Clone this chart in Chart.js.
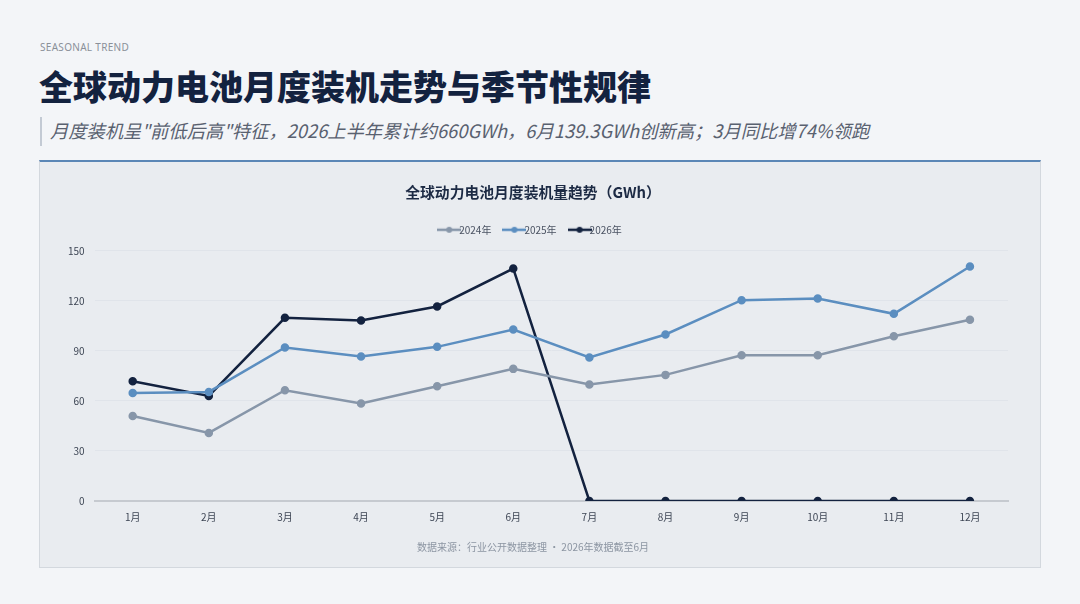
<!DOCTYPE html>
<html>
<head>
<meta charset="utf-8">
<script src="https://cdn.jsdelivr.net/npm/chart.js@4.4.1/dist/chart.umd.min.js"></script>
<style>
  body { margin:0; width:1080px; height:604px; background:#f3f5f8; font-family:"Noto Sans CJK SC","Noto Sans",sans-serif; position:relative; overflow:hidden; }
  .kicker { position:absolute; left:40px; top:40px; font-size:10px; color:#8a9099; letter-spacing:0.3px; font-family:"Noto Sans","Noto Sans CJK SC",sans-serif; }
  .title { position:absolute; left:39px; top:62px; font-size:34px; font-weight:900; color:#13223f; letter-spacing:0px; line-height:48px; }
  .sub { position:absolute; left:40px; top:117px; height:29px; border-left:2px solid #c3cad4; padding-left:8px; font-size:18.3px; font-style:italic; color:#596170; line-height:27px; }
  .card { position:absolute; left:39px; top:160px; width:1000px; height:405px; background:#e9ecf0; border:1px solid #d3d8de; border-top:2px solid #5b87b6; }
  .card canvas { position:absolute; left:0; top:0; }
</style>
</head>
<body>
<div class="kicker">SEASONAL TREND</div>
<div class="title">全球动力电池月度装机走势与季节性规律</div>
<div class="sub">月度装机呈"前低后高"特征，2026上半年累计约660GWh，6月139.3GWh创新高；3月同比增74%领跑</div>
<div class="card"><div style="position:absolute;left:0;top:0;width:1000px;height:405px"><canvas id="myChart"></canvas></div></div>
<script>
const months = ['1月','2月','3月','4月','5月','6月','7月','8月','9月','10月','11月','12月']
const data2024 = [51.0, 40.8, 66.4, 58.4, 68.8, 79.2, 69.8, 75.6, 87.4, 87.4, 98.8, 108.6]
const data2025 = [64.8, 65.4, 92.0, 86.6, 92.4, 102.8, 86.0, 99.8, 120.4, 121.4, 112.2, 140.6]
const data2026 = [71.8, 63.0, 109.8, 108.2, 116.6, 139.3, 0, 0, 0, 0, 0, 0]
const yTicks = [0, 30, 60, 90, 120, 150]

const colors = ['#8796a9', '#5b8ec0', '#13223f']
const font = '"Noto Sans CJK SC","Noto Sans",sans-serif'

function legendMark(color){
    const c = document.createElement('canvas')
    c.width = 24; c.height = 8
    const g = c.getContext('2d')
    g.strokeStyle = color; g.lineWidth = 2.5
    g.beginPath(); g.moveTo(0,4); g.lineTo(24,4); g.stroke()
    g.fillStyle = color
    g.beginPath(); g.arc(12,4,3,0,Math.PI*2); g.fill()
    return c
}

function makeSet(label, values, color){
    return {
        label: label,
        data: values,
        borderColor: color,
        backgroundColor: color,
        borderWidth: 2.5,
        pointRadius: 3,
        pointHoverRadius: 4,
        tension: 0,
        pointStyle: 'circle'
    }
}

// legend needs some extra room below it
const legendGap = {
    id: 'legendGap',
    beforeInit(chart){
        const fit = chart.legend.fit
        chart.legend.fit = function(){
            fit.bind(chart.legend)()
            this.height += 6
        }
    }
}

var ctx = document.getElementById('myChart').getContext('2d');
const marks = colors.map(legendMark)
new Chart(ctx, {
    type: 'line',
    data: {
        labels: months,
        datasets: [
            makeSet('2024年', data2024, colors[0]),
            makeSet('2025年', data2025, colors[1]),
            makeSet('2026年', data2026, colors[2])
        ]
    },
    plugins: [legendGap],
    options: {
        responsive: true,
        maintainAspectRatio: false,
        animation: false,
        layout: { padding: { left: 18, right: 32, bottom: 10 } },
        plugins: {
            title: {
                display: true,
                text: '全球动力电池月度装机量趋势（GWh）',
                color: '#1c2a44',
                font: { family: font, size: 14.8, weight: 'bold' },
                padding: { top: 21, bottom: 6 }
            },
            legend: {
                labels: {
                    usePointStyle: true,
                    color: '#4a5262',
                    font: { family: font, size: 10 },
                    padding: 18,
                    generateLabels: (chart) => chart.data.datasets.map((ds, i) => ({
                        text: ds.label,
                        pointStyle: marks[i],
                        fillStyle: ds.borderColor,
                        strokeStyle: ds.borderColor,
                        fontColor: '#4a5262',
                        lineWidth: 0,
                        datasetIndex: i,
                        hidden: false
                    }))
                }
            },
            subtitle: {
                display: true,
                position: 'bottom',
                text: '数据来源：行业公开数据整理 · 2026年数据截至6月',
                color: '#8c95a2',
                font: { family: font, size: 10 },
                padding: { top: 16, bottom: 4 }
            },
            tooltip: { enabled: false }
        },
        scales: {
            x: {
                offset: true,
                grid: { display: false },
                border: { color: '#c6cad0', width: 2 },
                ticks: { color: '#3d4554', font: { family: font, size: 10 }, padding: 2 }
            },
            y: {
                min: 0,
                max: 150,
                afterBuildTicks: (axis) => { axis.ticks = yTicks.map(v => ({ value: v })) },
                grid: { color: '#e0e4ea', drawTicks: false },
                border: { display: false },
                ticks: { color: '#3d4554', font: { family: font, size: 10 }, padding: 10 }
            }
        }
    }
});
</script>
</body>
</html>
